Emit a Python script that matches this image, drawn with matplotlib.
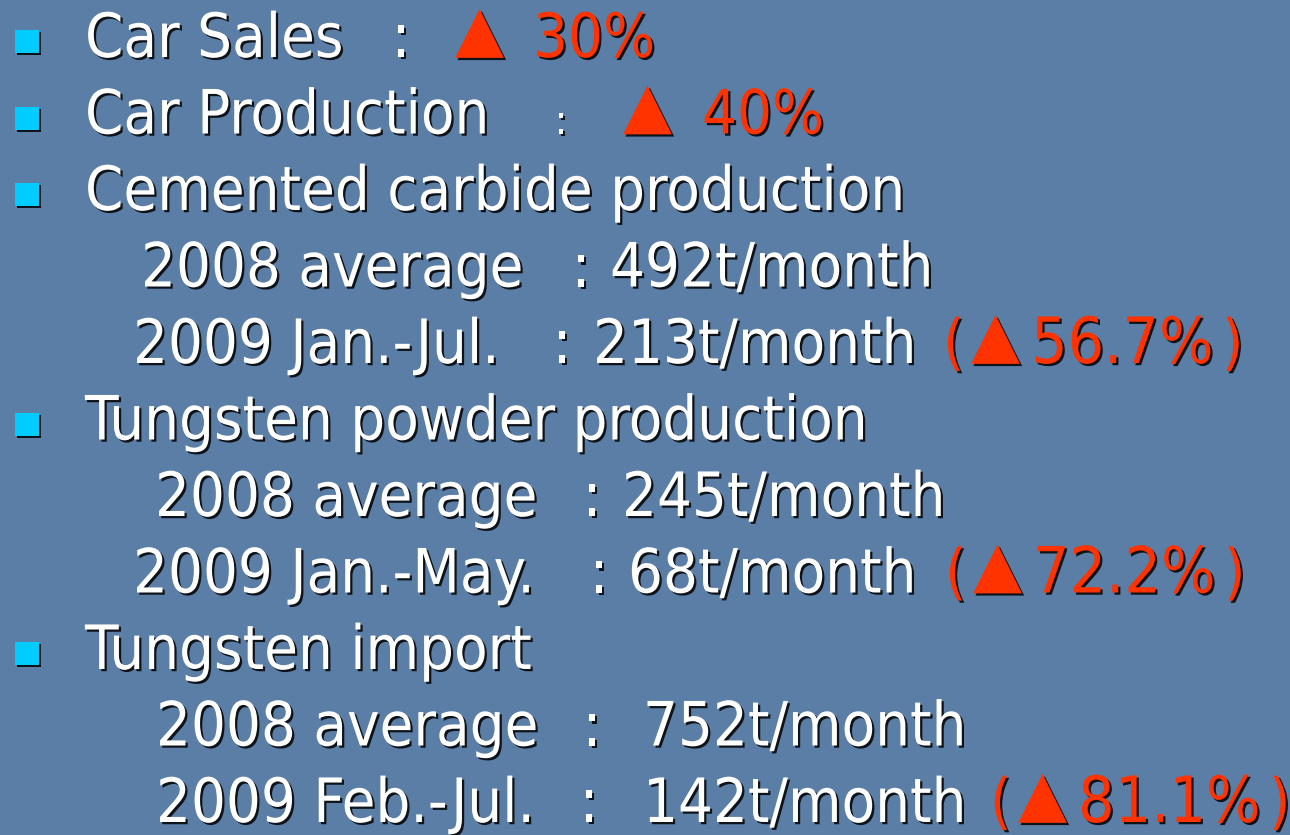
import matplotlib
matplotlib.use("Agg")
import matplotlib.pyplot as plt
import matplotlib.patheffects as pe
from matplotlib.patches import Rectangle
from matplotlib import font_manager as fm

# ---------------- data (text content of the slide) ----------------
headings = ["Car Sales", "Car Production", "Cemented carbide production",
            "Tungsten powder production", "Tungsten import"]
head_changes = ["30%", "40%"]
periods = ["2008 average", "2009 Jan.-Jul.",
           "2008 average", "2009 Jan.-May.",
           "2008 average", "2009 Feb.-Jul."]
rates = ["492t/month", "213t/month", "245t/month", "68t/month",
         "752t/month", "142t/month"]
declines = ["56.7%", "72.2%", "81.1%"]
marker = "\u25B2"

# ---------------- layout ----------------
W, H = 1290, 835
BG = "#5B7EA6"
WHITE = "#FFFFFF"
RED = "#FF3300"
CYAN = "#00CCFF"
FS = 44
MARK_FS = 46
MARK_LIFT = 7

line_y0, line_dy = 57, 76.5
heading_rows = [0, 1, 2, 5, 8]
heading_x = 85
head_colon_x = [392, 555]
head_colon_fs = [FS, 28]
head_mark_x = [455, 623]
head_val_x = [533, 702]

period_rows = [3, 4, 6, 7, 9, 10]
period_x = [141, 133, 155, 133, 156, 156]
colon_x = [572, 553, 583, 590, 583, 580]
rate_x = [610, 593, 622, 628, 643, 643]
decline_rows = [4, 7, 10]
paren_x = [943, 945, 990]

# font choice: Tahoma-like
has_cond = any(f.name == "DejaVu Sans" and f.stretch == "condensed"
               for f in fm.fontManager.ttflist)
if has_cond:
    FAM = ["DejaVu Sans"]
    STRETCH = "condensed"
else:
    FAM = ["Liberation Sans", "DejaVu Sans"]
    STRETCH = "normal"

shadow = [pe.withSimplePatchShadow(offset=(1.6, -1.6), shadow_rgbFace="black",
                                   alpha=0.85)]

fig = plt.figure(figsize=(W / 100, H / 100), dpi=100)
fig.patch.set_facecolor(BG)
ax = fig.add_axes([0, 0, 1, 1])
ax.set_xlim(0, W)
ax.set_ylim(H, 0)
ax.axis("off")
ax.set_facecolor(BG)


def put(x, row, s, color=WHITE, fs=FS, ha="left", fam=None, stretch=None,
        dy=0):
    y = line_y0 + row * line_dy + dy
    ax.text(x, y, s, color=color, fontsize=fs, ha=ha, va="baseline",
            family=fam or FAM, fontstretch=stretch or STRETCH,
            path_effects=shadow)


def bullet(row):
    y = line_y0 + row * line_dy
    ax.add_patch(Rectangle((17, y - 25), 24, 23, facecolor="black",
                           edgecolor="none", alpha=0.85))
    ax.add_patch(Rectangle((15, y - 27), 24, 23, facecolor=CYAN,
                           edgecolor="none"))


def mark(x, row):
    put(x, row, marker, color=RED, fs=MARK_FS, fam=["DejaVu Sans"],
        stretch="normal", dy=-MARK_LIFT)


for i, (row, txt) in enumerate(zip(heading_rows, headings)):
    bullet(row)
    put(heading_x, row, txt)
    if i < len(head_changes):
        put(head_colon_x[i], row, ":", fs=head_colon_fs[i])
        mark(head_mark_x[i], row)
        put(head_val_x[i], row, head_changes[i], color=RED)

for i, row in enumerate(period_rows):
    put(period_x[i], row, periods[i])
    put(colon_x[i], row, ":")
    put(rate_x[i], row, rates[i])

for i, row in enumerate(decline_rows):
    x = paren_x[i]
    put(x, row, "(", color=RED)
    mark(x + 28, row)
    put(x + 88, row, declines[i], color=RED, fs=46)
    put(x + 279, row, ")", color=RED)

fig.savefig("out.png", dpi=100, facecolor=BG)
